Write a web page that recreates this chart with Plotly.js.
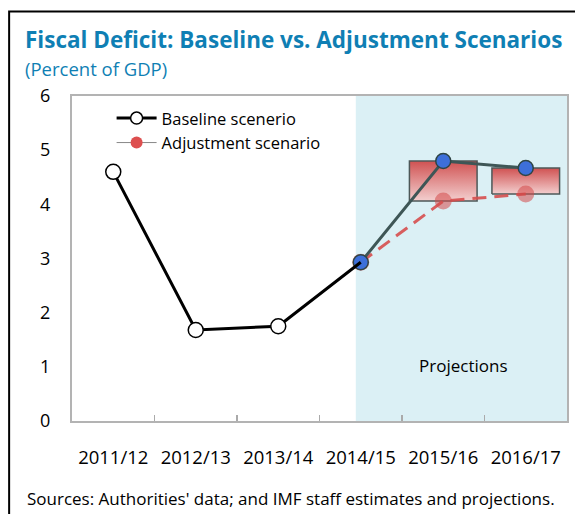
<!DOCTYPE html>
<html>
<head>
<meta charset="utf-8">
<script src="https://cdn.plot.ly/plotly-3.0.1.min.js"></script>
<style>
  html, body { margin: 0; padding: 0; background: #fff; }
  #chart { width: 575px; height: 514px; }
</style>
</head>
<body>
<div id="chart"></div>
<script>
// ---- data ----
const years = ['2011/12', '2012/13', '2013/14', '2014/15', '2015/16', '2016/17'];
const baselineHist = [4.6, 1.68, 1.75, 2.93, null, null];
const baselineProj = [null, null, null, 2.93, 4.8, 4.67];
const adjustment = [null, null, null, 2.93, 4.06, 4.19];
const yTicks = [0, 1, 2, 3, 4, 5, 6];

const FONT = 'Open Sans, Noto Sans, sans-serif';
const boxHalf = 0.41;
const idx = years.map((_, i) => i);   // category positions on the overlay axis

const traces = [];

// invisible trace registering the categories on the labelled axis
traces.push({ type: 'scatter', mode: 'markers', x: years, y: years.map(() => null),
  showlegend: false, hoverinfo: 'skip', marker: { opacity: 0 } });

// gradient boxes between adjustment and baseline (projection years)
years.forEach((yr, i) => {
  const a = adjustment[i], b = baselineProj[i];
  if (a == null || b == null || Math.abs(b - a) < 1e-9) return;
  traces.push({
    type: 'scatter', mode: 'lines', xaxis: 'x2', yaxis: 'y',
    x: [i - boxHalf, i + boxHalf, i + boxHalf, i - boxHalf, i - boxHalf],
    y: [a, a, b, b, a],
    fill: 'toself',
    fillgradient: { type: 'vertical', colorscale: [[0, '#f3cfcf'], [1, '#d05252']] },
    line: { color: '#4d5858', width: 1.5 },
    showlegend: false, hoverinfo: 'skip'
  });
});

// adjustment scenario (dashed red)
traces.push({
  type: 'scatter', mode: 'lines+markers', xaxis: 'x2', x: idx, y: adjustment,
  line: { color: 'rgba(214,78,78,0.9)', width: 3, dash: '14px,8px' },
  marker: { size: 17, color: 'rgba(212,72,72,0.55)', line: { width: 0 } },
  showlegend: false
});

// baseline projection
traces.push({
  type: 'scatter', mode: 'lines+markers', xaxis: 'x2', x: idx, y: baselineProj,
  line: { color: '#3e5656', width: 3 },
  marker: { size: 15, color: '#3d6fd9', line: { color: '#2f4545', width: 1.5 } },
  showlegend: false
});

// baseline historical
traces.push({
  type: 'scatter', mode: 'lines+markers', xaxis: 'x2', x: idx, y: baselineHist,
  line: { color: '#000', width: 3 },
  marker: { size: 15, color: ['#fff', '#fff', '#fff', 'rgba(0,0,0,0)'],
            line: { color: ['#000', '#000', '#000', 'rgba(0,0,0,0)'], width: 1.5 } },
  showlegend: false
});

// legend entries
traces.push({
  type: 'scatter', mode: 'lines+markers', xaxis: 'x2', x: [null], y: [null],
  name: 'Baseline scenerio',
  line: { color: '#000', width: 3 },
  marker: { size: 12, color: '#fff', line: { color: '#000', width: 1.5 } }
});
traces.push({
  type: 'scatter', mode: 'lines+markers', xaxis: 'x2', x: [null], y: [null],
  name: 'Adjustment scenario',
  line: { color: '#888', width: 1 },
  marker: { size: 12, color: '#dd4f4f' }
});

const layout = {
  width: 575, height: 514,
  margin: { l: 72, r: 8, t: 96, b: 93 },
  paper_bgcolor: '#fff', plot_bgcolor: '#fff',
  font: { family: FONT, size: 17, color: '#000' },
  showlegend: true,
  legend: {
    x: 0.08, y: 0.985, xanchor: 'left', yanchor: 'top',
    bgcolor: 'rgba(0,0,0,0)', font: { family: FONT, size: 16.5, color: '#000' },
    itemwidth: 40, tracegroupgap: 0
  },
  xaxis: {
    type: 'category', range: [-0.5, 5.5], tickson: 'boundaries',
    ticks: 'inside', ticklen: 6, tickcolor: '#aaa', tickwidth: 1.5,
    showline: true, linecolor: '#b3b3b3', linewidth: 2, mirror: true,
    showgrid: false, zeroline: false, ticklabelstandoff: 19,
    tickfont: { family: FONT, size: 18.5 }
  },
  xaxis2: { overlaying: 'x', range: [-0.5, 5.5], visible: false },
  yaxis: {
    range: [0, 6], tickvals: yTicks, ticks: '', showgrid: false, zeroline: false,
    showline: true, linecolor: '#b3b3b3', linewidth: 2, mirror: true,
    ticklabelstandoff: 16, tickfont: { family: FONT, size: 18 }
  },
  shapes: [
    { type: 'rect', xref: 'x2', yref: 'paper', x0: 2.94, x1: 5.5, y0: 0, y1: 1,
      fillcolor: '#dbf0f5', line: { width: 0 }, layer: 'below' },
    { type: 'rect', xref: 'paper', yref: 'paper', x0: -0.127, x1: 1.3, y0: -0.6, y1: 1.26,
      fillcolor: 'rgba(0,0,0,0)', line: { color: '#000', width: 2 } }
  ],
  annotations: [
    { xref: 'paper', yref: 'paper', x: -0.099, y: 1.174, xanchor: 'left', yanchor: 'middle',
      text: '<b>Fiscal Deficit: Baseline vs. Adjustment Scenarios</b>', showarrow: false,
      font: { family: FONT, size: 22.5, color: '#0f7fb4' } },
    { xref: 'paper', yref: 'paper', x: -0.099, y: 1.084, xanchor: 'left', yanchor: 'middle',
      text: '(Percent of GDP)', showarrow: false,
      font: { family: FONT, size: 18.5, color: '#0f7fb4' } },
    { xref: 'x2', yref: 'y', x: 4.24, y: 1.03, text: 'Projections', showarrow: false,
      font: { family: FONT, size: 17, color: '#000' } },
    { xref: 'paper', yref: 'paper', x: -0.095, y: -0.237, xanchor: 'left', yanchor: 'middle',
      text: "Sources: Authorities' data; and IMF staff estimates and projections.", showarrow: false,
      font: { family: FONT, size: 17, color: '#000' } }
  ]
};

Plotly.newPlot('chart', traces, layout, { displayModeBar: false, staticPlot: true });
</script>
</body>
</html>
